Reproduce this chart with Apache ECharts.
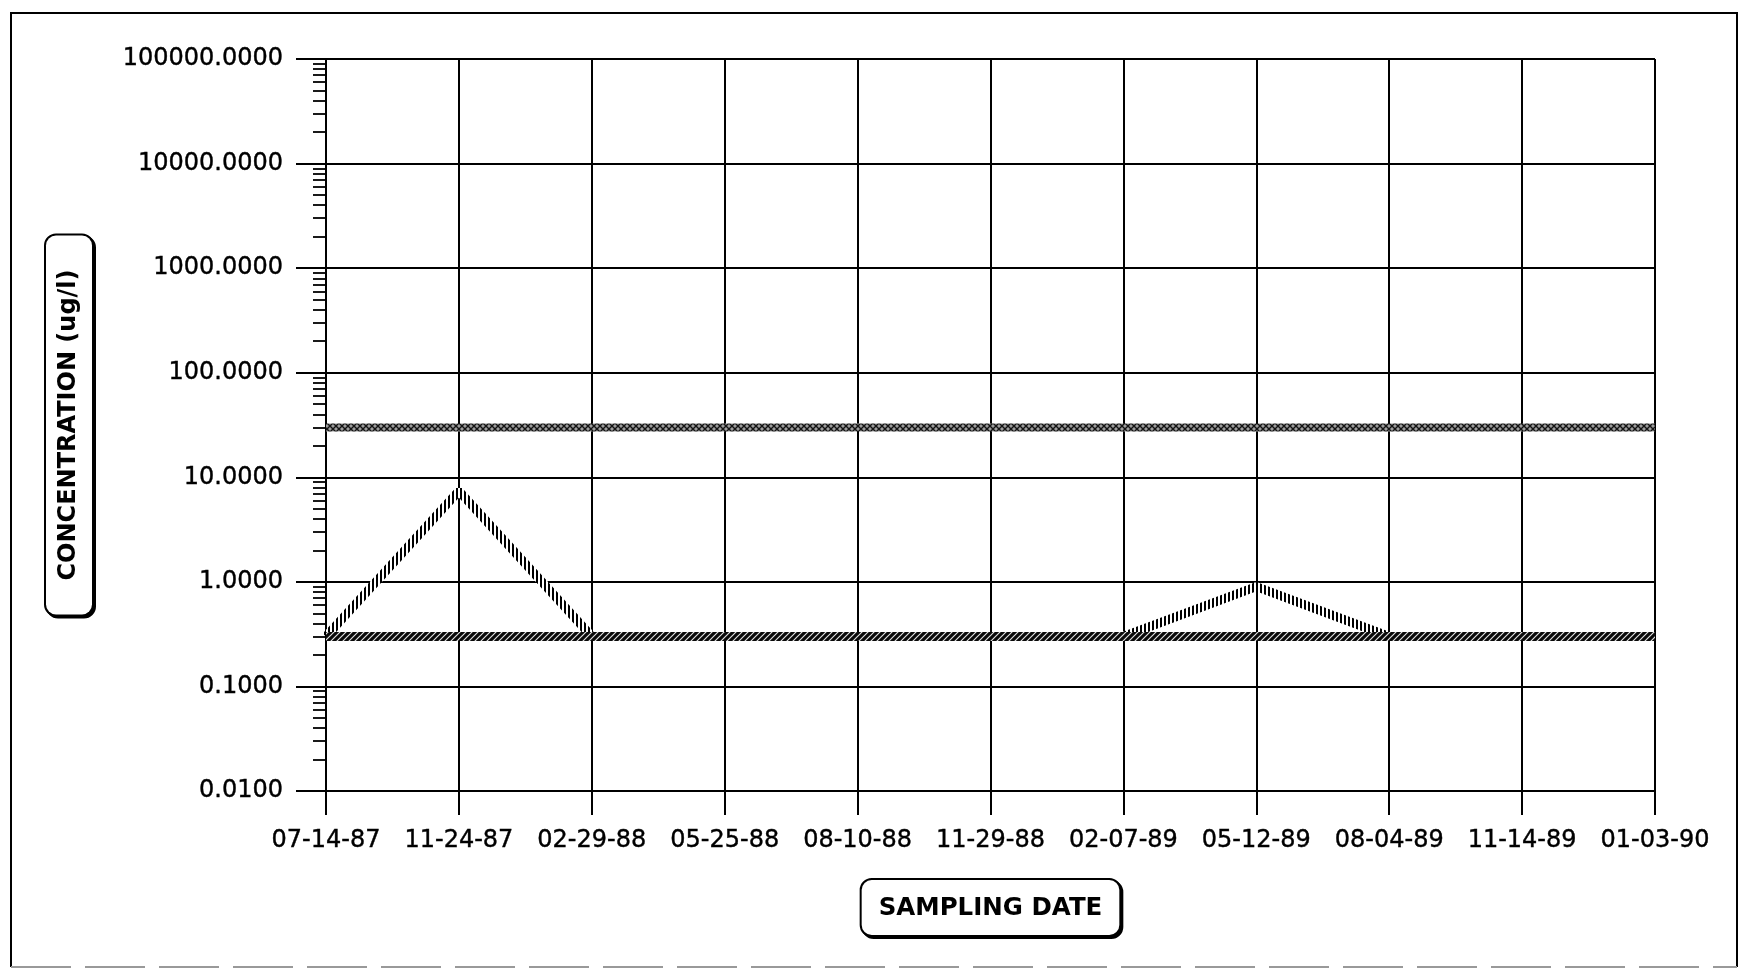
<!DOCTYPE html>
<html>
<head>
<meta charset="utf-8">
<script src="https://cdn.jsdelivr.net/npm/echarts@6/dist/echarts.min.js"></script>
<style>
html,body{margin:0;padding:0;background:#fff;}
#c{width:1740px;height:971px;}
</style>
</head>
<body>
<div id="c"></div>
<script>
// ---- data ----
const categories = ['07-14-87','11-24-87','02-29-88','05-25-88','08-10-88','11-29-88','02-07-89','05-12-89','08-04-89','11-14-89','01-03-90'];
const upperLimit = [30, 30, 30, 30, 30, 30, 30, 30, 30, 30, 30];
const detectionLimit = [0.3, 0.3, 0.3, 0.3, 0.3, 0.3, 0.3, 0.3, 0.3, 0.3, 0.3];
const concentration = [0.3, 7.4, 0.3, 0.3, 0.3, 0.3, 0.3, 0.9, 0.3, 0.3, 0.3];
const yMin = 0.01;
const yMax = 100000;
const minorDecades = [0.01, 0.1, 1, 10, 100, 1000, 10000];
const minorMultipliers = [2, 3, 4, 5, 6, 7, 8, 9];

// minor tick values (2..9 within each decade)
const minorTickValues = [];
minorDecades.forEach(d => minorMultipliers.forEach(m => minorTickValues.push(+(d * m).toPrecision(3))));

// ---- hatch patterns ----
function makePattern(w, h, draw) {
  const cv = document.createElement('canvas');
  cv.width = w; cv.height = h;
  const ctx = cv.getContext('2d');
  draw(ctx, w, h);
  return { image: cv, repeat: 'repeat' };
}
const patVertical = makePattern(4, 4, (ctx, w, h) => {
  ctx.fillStyle = '#fff'; ctx.fillRect(0, 0, w, h);
  ctx.fillStyle = '#000'; ctx.fillRect(0, 0, 2, h);
});
const patDiag = makePattern(6, 6, (ctx, w, h) => {
  ctx.fillStyle = '#0a0a0a'; ctx.fillRect(0, 0, w, h);
  ctx.strokeStyle = '#e0e0e0'; ctx.lineWidth = 1.2;
  ctx.beginPath();
  ctx.moveTo(0, h); ctx.lineTo(w, 0);
  ctx.moveTo(-w / 2, h / 2); ctx.lineTo(w / 2, -h / 2);
  ctx.moveTo(w / 2, h * 1.5); ctx.lineTo(w * 1.5, h / 2);
  ctx.stroke();
});
const patCross = makePattern(6, 6, (ctx, w, h) => {
  ctx.fillStyle = '#9c9c9c'; ctx.fillRect(0, 0, w, h);
  ctx.strokeStyle = '#141414'; ctx.lineWidth = 1.4;
  ctx.beginPath();
  ctx.moveTo(0, 0); ctx.lineTo(w, h);
  ctx.moveTo(0, h); ctx.lineTo(w, 0);
  ctx.stroke();
});

const FONT = 'DejaVu Sans';
const boxStyle = {
  fontFamily: FONT, fontWeight: 'bold', color: '#000',
  backgroundColor: '#fff', borderColor: '#000', borderWidth: 2, borderRadius: 10,
  shadowColor: '#000', shadowBlur: 0, shadowOffsetX: 2, shadowOffsetY: 2
};
const labelStyle = { fontFamily: FONT, fontSize: 24, color: '#000', textBorderColor: '#000', textBorderWidth: 0.4 };

const chart = echarts.init(document.getElementById('c'), null, { renderer: 'canvas' });
chart.setOption({
  animation: false,
  backgroundColor: '#fff',
  grid: { left: 326, right: 85, top: 59, bottom: 180, containLabel: false },
  graphic: [
    { type: 'polyline', silent: true, shape: { points: [[11, 967], [11, 13], [1737, 13], [1737, 967]] },
      style: { stroke: '#000', lineWidth: 2, fill: null } },
    { type: 'line', silent: true, shape: { x1: 11, y1: 967, x2: 1737, y2: 967 },
      style: { stroke: '#999', lineWidth: 2, lineDash: [60, 14] } }
  ],
  xAxis: {
    type: 'category',
    data: categories,
    boundaryGap: false,
    axisLine: { show: true, onZero: false, lineStyle: { color: '#000', width: 2 } },
    axisTick: { show: true, interval: 0, length: 24, inside: false, lineStyle: { color: '#000', width: 2 } },
    axisLabel: Object.assign({ interval: 0, margin: 38 }, labelStyle),
    splitLine: { show: true, interval: 0, lineStyle: { color: '#000', width: 2 } },
    name: 'SAMPLING DATE',
    nameLocation: 'middle',
    nameGap: 89,
    nameTextStyle: Object.assign({ fontSize: 24.5, padding: [16, 17, 14, 17] }, boxStyle)
  },
  yAxis: [
    {
      type: 'log',
      logBase: 10,
      min: yMin,
      max: yMax,
      axisLine: { show: true, lineStyle: { color: '#000', width: 2 } },
      axisTick: { show: true, length: 30, lineStyle: { color: '#000', width: 2 } },
      axisLabel: Object.assign({ margin: 43, formatter: v => Number(v).toFixed(4) }, labelStyle),
      splitLine: { show: true, lineStyle: { color: '#000', width: 2 } },
      name: 'CONCENTRATION (ug/l)',
      nameLocation: 'middle',
      nameRotate: 90,
      nameGap: 234,
      nameTextStyle: Object.assign({ fontSize: 24, padding: [11, 34, 11, 34] }, boxStyle)
    },
    {
      type: 'log',
      logBase: 10,
      min: yMin,
      max: yMax,
      position: 'left',
      axisLine: { show: false },
      axisTick: { show: true, length: 13, customValues: minorTickValues, lineStyle: { color: '#000', width: 1.8 } },
      axisLabel: { show: false },
      splitLine: { show: false }
    }
  ],
  series: [
    { name: 'Concentration', type: 'line', data: concentration, yAxisIndex: 0, symbol: 'none', silent: true, z: 2,
      itemStyle: { color: '#000' }, lineStyle: { width: 9, color: patVertical } },
    { name: 'Detection limit', type: 'line', data: detectionLimit, yAxisIndex: 0, symbol: 'none', silent: true, z: 3,
      itemStyle: { color: '#000' }, lineStyle: { width: 9, color: patDiag } },
    { name: 'Standard', type: 'line', data: upperLimit, yAxisIndex: 0, symbol: 'none', silent: true, z: 3,
      itemStyle: { color: '#888' }, lineStyle: { width: 8, color: patCross } }
  ]
});
</script>
</body>
</html>
